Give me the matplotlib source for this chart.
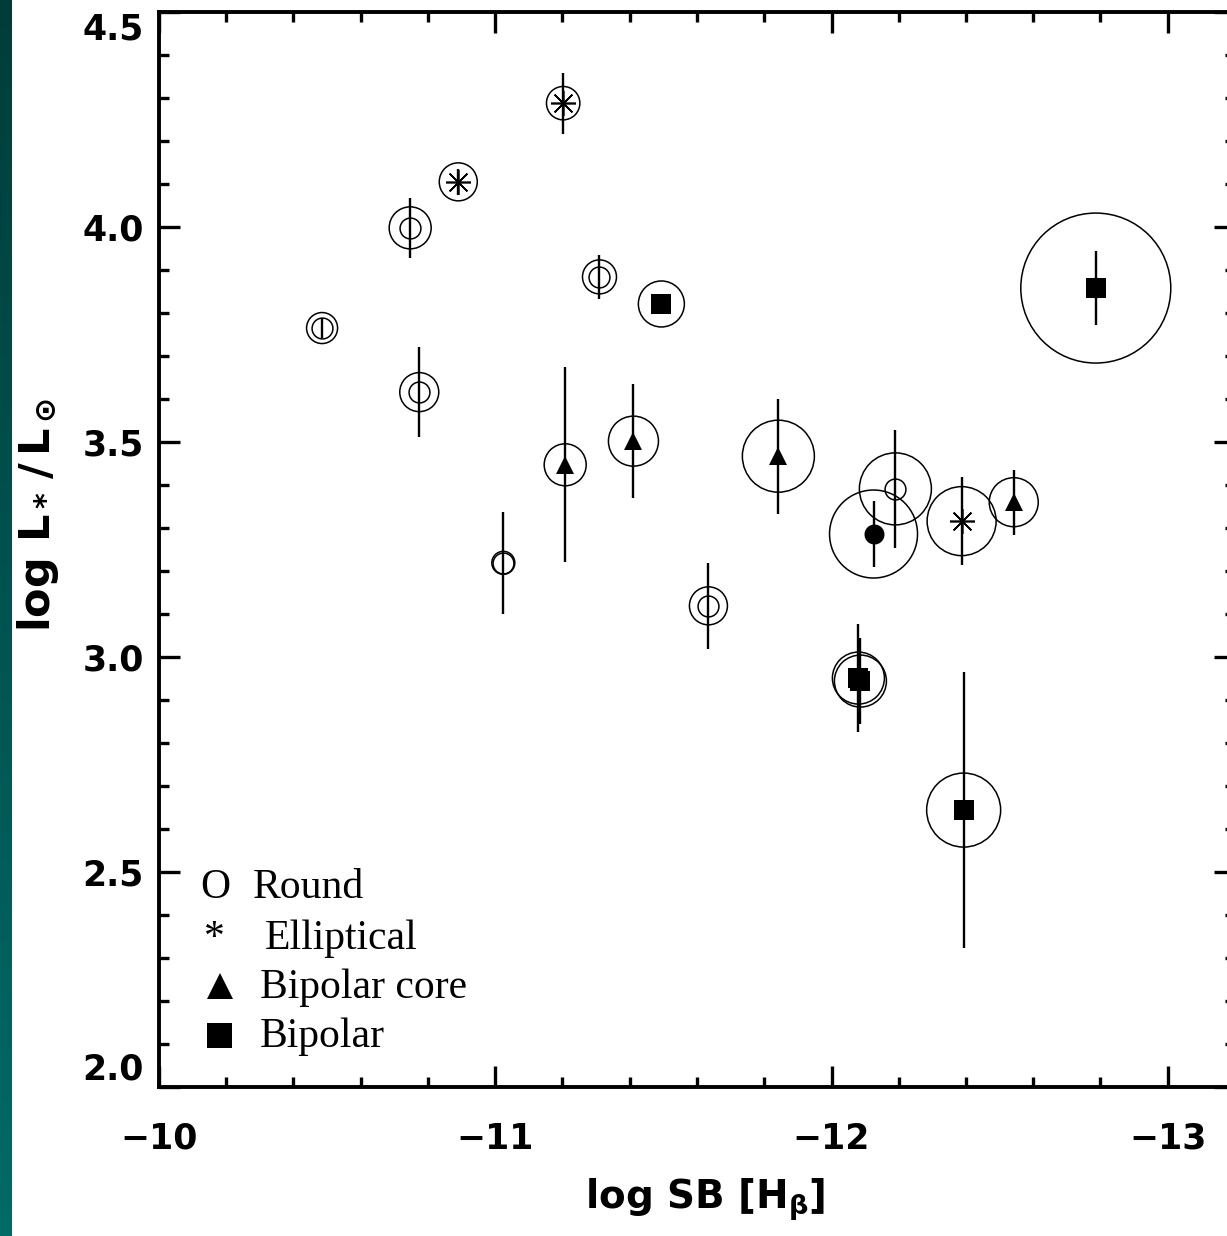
import numpy as np
import matplotlib
matplotlib.use("Agg")
import matplotlib.pyplot as plt
from matplotlib.colors import LinearSegmentedColormap


# log SB [H beta], log L*/Lsun, error in log L, nebula ring radius (px), class
log_sb = [-10.485, -10.747, -10.774, -10.890, -11.202, -11.310, -11.494, -11.024,
          -11.208, -11.411, -11.634, -11.842, -12.080, -12.086, -12.125, -12.190,
          -12.387, -12.542, -12.393, -12.786]
log_l = [3.765, 3.998, 3.616, 4.105, 4.288, 3.884, 3.821, 3.219,
         3.447, 3.502, 3.119, 3.467, 2.951, 2.944, 3.286, 3.391,
         3.316, 3.360, 2.644, 3.858]
log_l_err = [0.024, 0.070, 0.105, 0.030, 0.071, 0.051, 0.020, 0.119,
             0.227, 0.133, 0.100, 0.134, 0.126, 0.100, 0.076, 0.137,
             0.102, 0.076, 0.321, 0.086]
neb_radius = [15.5, 21, 19.5, 19, 16.7, 17, 23, 11.5,
              21, 25, 19, 36, 26, 26, 44, 36,
              34.5, 24.5, 37, 75]
morph = ["round", "round", "round", "elliptical", "elliptical", "round", "bipolar", "round",
         "bipolar_core", "bipolar_core", "round", "bipolar_core", "bipolar", "bipolar", "other", "round",
         "elliptical", "bipolar_core", "bipolar", "bipolar"]

x_ticks = [-10, -11, -12, -13]
y_ticks = [2.0, 2.5, 3.0, 3.5, 4.0, 4.5]
legend_labels = ["Round", "Elliptical", "Bipolar core", "Bipolar"]

DPI = 100
W, H = 1227, 1236
PX = 72.0 / DPI  # points per pixel

MARKERS = {
    "round": dict(marker="o", ms=15, mfc="none", mew=1.1),
    "elliptical": dict(marker=(8, 2, 0), ms=18, mew=1.2),
    "bipolar_core": dict(marker="^", ms=13, mfc="black", mew=0),
    "bipolar": dict(marker="s", ms=14.4, mfc="black", mew=0),
    "other": dict(marker="o", ms=14.4, mfc="black", mew=0),
}


def fig_text(fig, px, py, s, **kw):
    fig.text(px / W, 1 - py / H, s, **kw)


def main():
    plt.rcParams.update({
        "font.family": "DejaVu Sans",
        "mathtext.fontset": "dejavusans",
        "mathtext.default": "bf",
    })
    fig = plt.figure(figsize=(W / DPI, H / DPI), dpi=DPI, facecolor="white")

    # teal strip at the left edge
    strip = fig.add_axes([0, 0, 12 / W, 1])
    cmap = LinearSegmentedColormap.from_list("teal", ["#003d3a", "#006b67"])
    strip.imshow(np.linspace(0, 1, 256).reshape(-1, 1), cmap=cmap, aspect="auto")
    strip.axis("off")

    left, right = 159 / W, 1235 / W
    bottom, top = (H - 1087) / H, (H - 12) / H
    ax = fig.add_axes([left, bottom, right - left, top - bottom])

    x = np.array(log_sb)
    y = np.array(log_l)
    err = np.array(log_l_err)
    r = np.array(neb_radius)
    cls = np.array(morph)

    ax.errorbar(x, y, yerr=err, fmt="none", ecolor="black", elinewidth=1.7, capsize=0, zorder=2)
    ax.scatter(x, y, s=(2 * r * PX) ** 2, facecolors="none", edgecolors="black",
               linewidths=1.1, zorder=3)
    for name, style in MARKERS.items():
        m = cls == name
        ax.plot(x[m], y[m], ls="none", color="black", zorder=4, **style)

    ax.set_xlim(-10, -13.2)
    ax.set_ylim(2.0, 4.5)
    ax.set_xticks(x_ticks)
    ax.set_xticks(np.arange(-10, -13.21, -0.2), minor=True)
    ax.set_yticks(y_ticks)
    ax.set_yticks(np.arange(2.0, 4.51, 0.1), minor=True)
    ax.set_yticklabels([f"{v:.1f}" for v in y_ticks])
    ax.set_xticklabels([f"\u2212{abs(v)}" for v in x_ticks])

    for sp in ax.spines.values():
        sp.set_linewidth(2.8)
    ax.tick_params(which="both", direction="in", top=True, right=True, width=2.4,
                   labelsize=25)
    ax.tick_params(which="major", length=15)
    ax.tick_params(which="minor", length=7)
    ax.tick_params(axis="x", which="major", pad=25)
    ax.tick_params(axis="y", which="major", pad=11)
    for lab in ax.get_xticklabels() + ax.get_yticklabels():
        lab.set_fontweight("bold")
    yt = ax.yaxis.get_major_ticks()
    yt[0].label1.set_va("bottom")
    yt[-1].label1.set_va("top")

    fig_text(fig, 705, 1200, r"log SB [H$_{\beta}$]", fontsize=28,
             fontweight="bold", ha="center", va="center")
    fig_text(fig, 38, 515, r"log L$_*$$\,$/$\,$L$_\odot$", fontsize=31,
             fontweight="bold", rotation=90, ha="center", va="center")

    # hand-drawn legend in the lower left
    lg = dict(family="Liberation Serif", fontsize=30, va="baseline")
    base = [898, 949, 998, 1047]
    fig_text(fig, 200, base[0], "O", **lg)
    fig_text(fig, 253, base[0], legend_labels[0], **lg)
    fig_text(fig, 204, base[1], "*", **lg)
    fig_text(fig, 265, base[1], legend_labels[1], **lg)
    fig_text(fig, 260, base[2], legend_labels[2], **lg)
    fig_text(fig, 260, base[3], legend_labels[3], **lg)
    fig.add_artist(plt.Line2D([220 / W], [1 - 986 / H], marker="^", ms=19, color="black",
                              mew=0, transform=fig.transFigure))
    fig.add_artist(plt.Line2D([219 / W], [1 - 1035 / H], marker="s", ms=18, color="black",
                              mew=0, transform=fig.transFigure))

    fig.savefig("out.png", dpi=DPI, facecolor="white")
    plt.close(fig)


if __name__ == "__main__":
    main()
